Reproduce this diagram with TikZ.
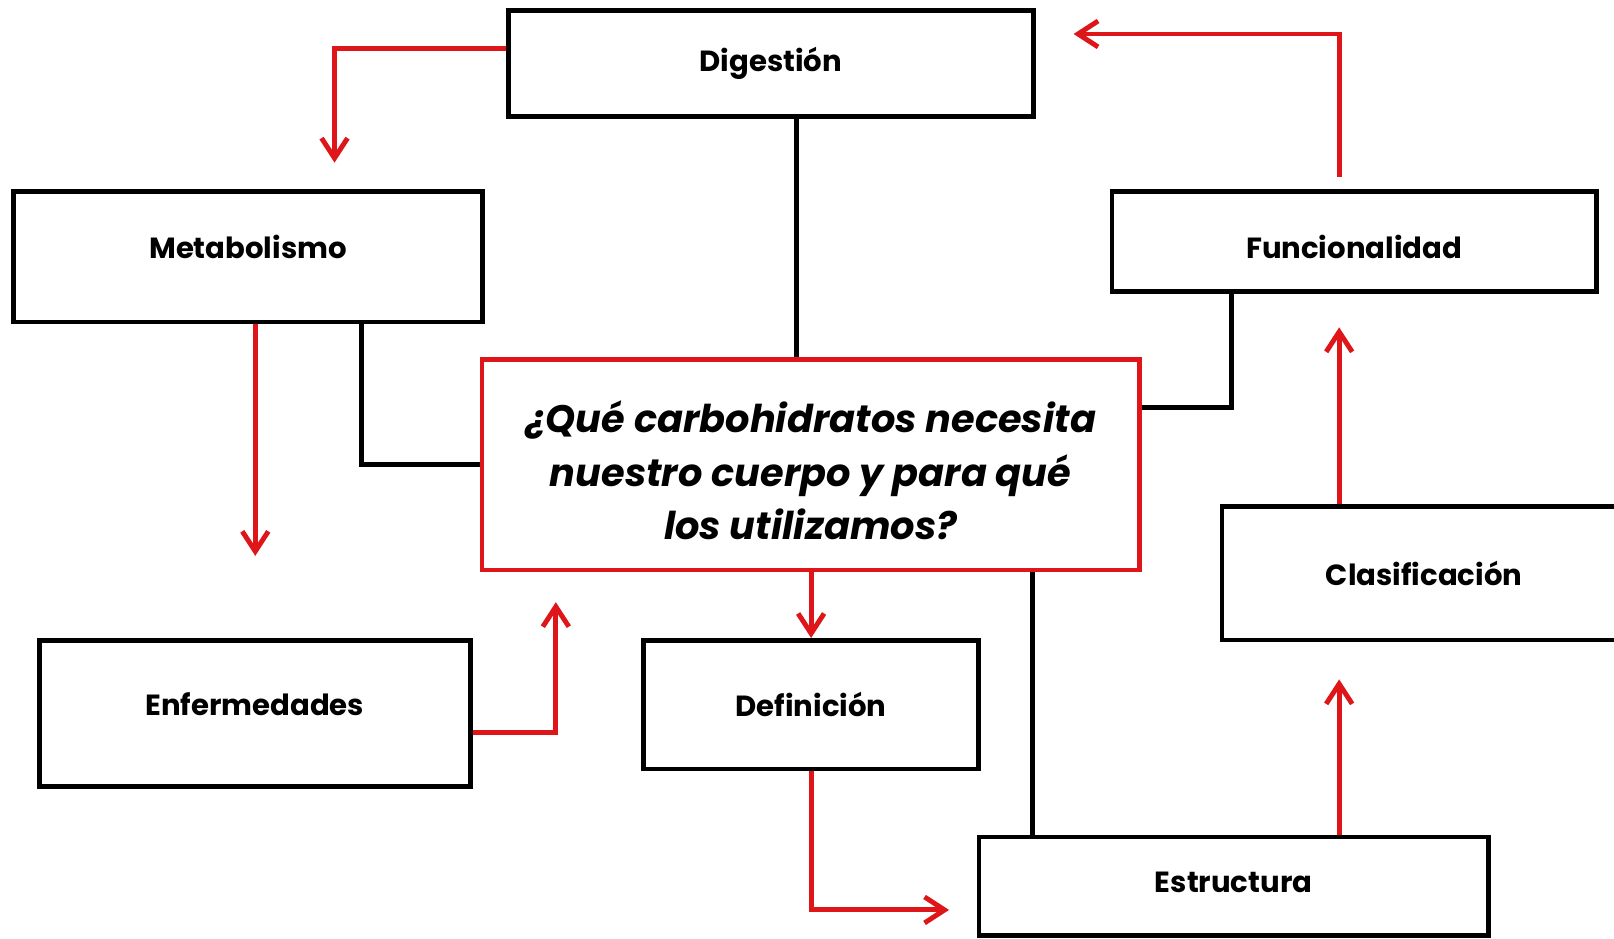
\documentclass[tikz,border=0pt]{standalone}
\usepackage{fontspec}
\setmainfont{Poppins}
\usetikzlibrary{arrows.meta}
\definecolor{mapred}{RGB}{222,22,26}

\begin{document}
\begin{tikzpicture}[x=0.010293cm,y=-0.010293cm,
  box/.style={draw,line width=1.3pt,inner sep=0pt,font=\fontsize{8.3}{10}\selectfont\bfseries},
  redarr/.style={mapred,line width=1.4pt,-{Straight Barb[length=2mm,width=2.6mm]}},
  redline/.style={mapred,line width=1.4pt},
  blkline/.style={line width=1.4pt}]
  \useasboundingbox (0,0) rectangle (1568,912);
  % boxes
  \node[box,minimum width=5.249cm,minimum height=1.060cm] (dig) at (749,61.5) {Digestión};
  \node[box,minimum width=4.694cm,minimum height=1.307cm,text depth=0.2cm] (meta) at (241,249.5) {Metabolismo};
  \node[box,minimum width=4.848cm,minimum height=0.998cm,text height=0.34cm] (fun) at (1315.5,234.5) {Funcionalidad};
  \node[box,draw=mapred,minimum width=6.577cm,minimum height=2.110cm,align=center,
    font=\fontsize{10.9}{15.2}\selectfont\bfseries\itshape] (cen) at (787.5,451.5)
    {\rule{0pt}{0.43cm}¿Qué carbohidratos necesita\\nuestro cuerpo y para qué\\los utilizamos?};
  \node[box,minimum width=4.045cm,minimum height=1.338cm] (cla) at (1383.5,557) {Clasificación};
  \node[box,minimum width=4.313cm,minimum height=1.462cm,text depth=0.18cm] (enf) at (247.5,693) {Enfermedades};
  \node[box,minimum width=3.355cm,minimum height=1.287cm] (def) at (788,684.5) {Definición};
  \node[box,minimum width=5.095cm,minimum height=0.988cm,text depth=0.08cm] (est) at (1198.5,861) {Estructura};
  % free arrow ends
  \coordinate (tipmeta) at (325,158);
  \coordinate (tipenf) at (248,540);
  \coordinate (tipdig) at (1043,33);
  \coordinate (funtop) at (1301,172);
  \coordinate (tipfun) at (1301,318);
  \coordinate (tipcla) at (1301,660);
  \coordinate (tipest) at (922,884);
  \coordinate (tipcen) at (540,585);
  % black links
  \draw[blkline] ([xshift=0.257cm]dig.south) coordinate (d1) -- (d1 |- cen.north);
  \draw[blkline] ([xshift=1.132cm]meta.south) |- (cen.west);
  \draw[blkline] ([yshift=0.571cm]cen.east) -| ([xshift=-1.230cm]fun.south);
  \draw[blkline] ([xshift=-2.012cm]est.north) coordinate (e1) -- (e1 |- cen.south);
  % red arrows
  \draw[redarr] ([yshift=0.149cm]dig.west) -| (tipmeta);
  \draw[redarr] (meta.south -| tipenf) -- (tipenf);
  \draw[redarr] (funtop) |- (tipdig);
  \draw[redarr] (cla.north -| tipfun) -- (tipfun);
  \draw[redarr] (est.north -| tipcla) -- (tipcla);
  \draw[redarr] (cen.south -| def.north) -- (def.north);
  \draw[redarr] (def.south) |- (tipest);
  \draw[redarr] ([yshift=-0.196cm]enf.east) -| (tipcen);
\end{tikzpicture}
\end{document}
